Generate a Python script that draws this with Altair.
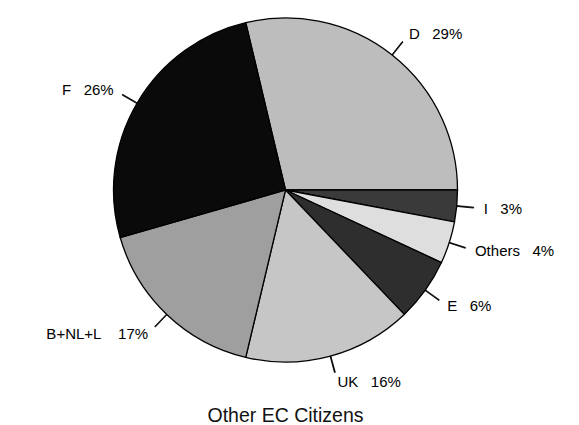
import math
import altair as alt
import pandas as pd

# ---- data ----
labels = ["D", "I", "Others", "E", "UK", "B+NL+L", "F"]
values = [29, 3, 4, 6, 16, 17, 26]
SP = "\u00a0\u00a0\u00a0"
label_text = [f"D{SP}29%", f"I{SP}3%", f"Others{SP}4%", f"E{SP}6%",
              f"UK{SP}16%", f"B+NL+L{SP}\u00a017%", f"F{SP}26%"]
palette = ["#bdbdbd", "#3a3a3a", "#dedede", "#2e2e2e", "#c6c6c6", "#9f9f9f", "#0a0a0a"]

df = pd.DataFrame({"label": labels, "value": values, "text": label_text,
                   "order": list(range(len(labels)))})

START_DEG = 90 - values[0] / sum(values) * 360   # D ends at 3 o'clock
start_rad = math.radians(START_DEG) + 2 * math.pi
R = 172

base = alt.Chart(df).transform_window(
    cum="sum(value)", sort=[alt.SortField("order")], frame=[None, 0]
).transform_joinaggregate(total="sum(value)").transform_calculate(
    s="(datum.cum - datum.value) / datum.total",
    e="datum.cum / datum.total",
    m="(datum.cum - datum.value / 2) / datum.total",
).transform_calculate(
    deg=f"datum.m * 360 + ({START_DEG})",
    l1="datum.m - 0.0004",
    l2="datum.m + 0.0004",
)

tscale = alt.Scale(domain=[0, 1], range=[start_rad, start_rad + 2 * math.pi])

pie = base.mark_arc(outerRadius=R, stroke="black", strokeWidth=1.3).encode(
    theta=alt.Theta("s:Q", scale=tscale, stack=None),
    theta2="e:Q",
    color=alt.Color("label:N", scale=alt.Scale(domain=labels, range=palette), legend=None),
)

leaders = base.mark_arc(radius=R + 17, radius2=R, color="black", stroke="black",
                        strokeWidth=0.8).encode(
    theta=alt.Theta("l1:Q", scale=tscale, stack=None),
    theta2="l2:Q",
)

txt_kw = dict(radius=R + 27, font="Liberation Sans", fontSize=15, color="#000",
              baseline="middle")
right = base.transform_filter("datum.deg > 0 && datum.deg < 180").mark_text(
    align="left", **txt_kw).encode(
    theta=alt.Theta("m:Q", scale=tscale, stack=None), text="text:N")
left = base.transform_filter("!(datum.deg > 0 && datum.deg < 180)").mark_text(
    align="right", **txt_kw).encode(
    theta=alt.Theta("m:Q", scale=tscale, stack=None), text="text:N")

chart = alt.layer(pie, leaders, right, left).properties(
    width=555, height=364,
    padding=0,
    background="white",
    title=alt.TitleParams("Other EC Citizens", orient="bottom", anchor="middle",
                          font="Liberation Sans", fontSize=19.5, fontWeight="normal",
                          color="#111", offset=17),
).configure_view(stroke=None)

chart.save("out.html", embed_options={"renderer": "svg", "actions": False})
